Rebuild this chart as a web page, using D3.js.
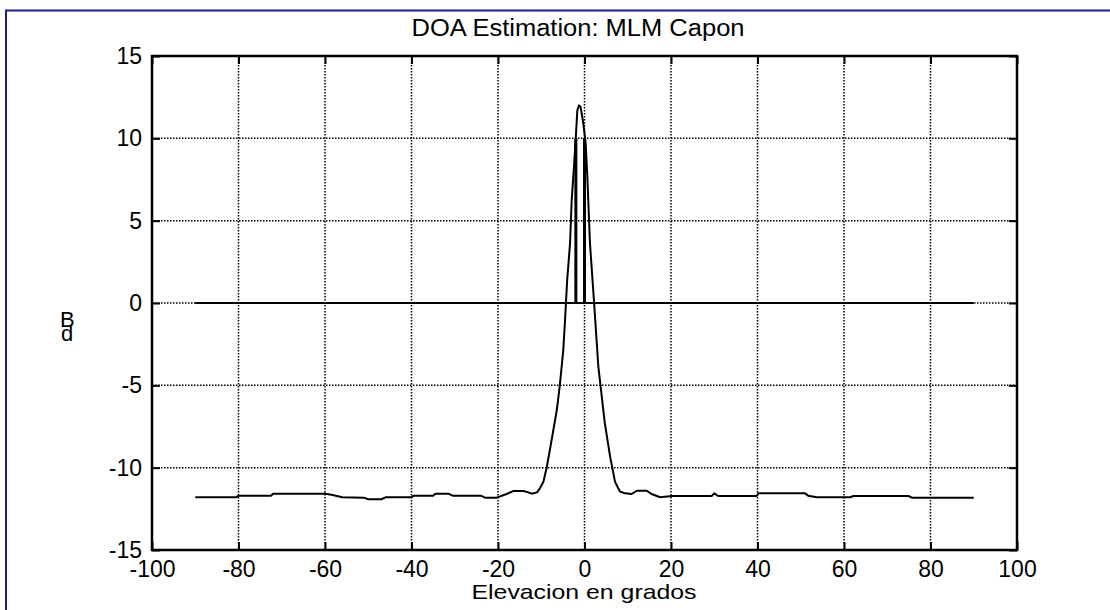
<!DOCTYPE html>
<html>
<head>
<meta charset="utf-8">
<script src="https://cdn.jsdelivr.net/npm/d3@7"></script>
<style>
  body { margin: 0; background: #fff; }
  svg { display: block; }
  text { font-family: "Liberation Sans", Arial, sans-serif; fill: #000; }
</style>
</head>
<body>
<div id="chart"></div>
<script>
// datos
var xTicks = [-100, -80, -60, -40, -20, 0, 20, 40, 60, 80, 100];
var yTicks = [-15, -10, -5, 0, 5, 10, 15];

// espectro MLM Capon (grados, dB)
var theta = [-90, -80.5, -80, -72.5, -72, -60, -58.5, -56, -51, -50, -47, -46, -40, -39.5, -35, -34.5,
  -31.5, -30.5, -24, -23, -20.3, -18, -16.5, -14.1, -13, -12.2, -11, -10.3, -9.5, -8.7, -7.6, -6.4,
  -5.7, -4.9, -4.5, -4.0, -3.35, -2.96, -2.43, -2.0, -1.66, -1.27, -0.9, -0.27, 0.27, 0.65, 1.27,
  1.8, 2.27, 3.2, 4.0, 4.7, 5.9, 7.05, 7.8, 8.2, 9.4, 10.9, 12.1, 14.4, 15.5, 17.5, 20.2, 29.4,
  30, 30.9, 39.8, 40.2, 51, 51.7, 53.7, 61.4, 62.2, 74.9, 75.7, 90];
var pdB = [-11.8, -11.8, -11.7, -11.7, -11.58, -11.58, -11.65, -11.8, -11.82, -11.92, -11.92, -11.8,
  -11.8, -11.7, -11.7, -11.58, -11.58, -11.7, -11.7, -11.82, -11.82, -11.6, -11.42, -11.42, -11.5,
  -11.58, -11.5, -11.25, -10.85, -9.94, -8.32, -6.5, -4.98, -2.85, -1.03, 1.4, 3.6, 6.25, 8.3, 10.1,
  11.7, 12.0, 11.9, 10.9, 9.7, 7.7, 3.6, 1.6, -0.2, -3.87, -5.7, -7.3, -9.3, -10.85, -11.25, -11.45,
  -11.56, -11.6, -11.4, -11.4, -11.6, -11.8, -11.72, -11.72, -11.56, -11.72, -11.72, -11.56, -11.56,
  -11.7, -11.8, -11.8, -11.72, -11.72, -11.82, -11.82];

// linea de cero y marcas de direccion
var zeroLine = [-90, 90];
var stemX = [-2, 0];
var stemTop = [10, 10];

var width = 1110, height = 610;
var mLeft = 152, mRight = 1017, mTop = 56, mBottom = 550;

var svg = d3.select("#chart").append("svg")
  .attr("width", width)
  .attr("height", height);

// marco azul
svg.append("rect")
  .attr("x", 6).attr("y", 10.5)
  .attr("width", 1200).attr("height", 800)
  .style("fill", "none")
  .style("stroke", "#1c1c8c")
  .style("stroke-width", 2);

var x = d3.scaleLinear().domain([-100, 100]).range([mLeft, mRight]);
var y = d3.scaleLinear().domain([-15, 15]).range([mBottom, mTop]);

// rejilla punteada
svg.append("g").selectAll("line")
  .data(xTicks.slice(1, -1))
  .enter().append("line")
  .attr("x1", function (d) { return x(d) }).attr("x2", function (d) { return x(d) })
  .attr("y1", mTop).attr("y2", mBottom)
  .style("stroke", "#000").style("stroke-width", 1.5).style("stroke-dasharray", "1.5,1.5");

svg.append("g").selectAll("line")
  .data(yTicks.slice(1, -1))
  .enter().append("line")
  .attr("y1", function (d) { return y(d) }).attr("y2", function (d) { return y(d) })
  .attr("x1", mLeft).attr("x2", mRight)
  .style("stroke", "#000").style("stroke-width", 1.5).style("stroke-dasharray", "1.5,1.5");

// ejes con marcas hacia dentro, en los cuatro lados
var tickLen = 8;
var fmt = function (d) { return String(d) };
var xBottom = d3.axisBottom(x).tickValues(xTicks).tickFormat(fmt).tickSizeInner(-tickLen).tickSizeOuter(0).tickPadding(11);
var xTop = d3.axisTop(x).tickValues(xTicks).tickSizeInner(-tickLen).tickSizeOuter(0).tickFormat("");
var yLeft = d3.axisLeft(y).tickValues(yTicks).tickFormat(fmt).tickSizeInner(-tickLen).tickSizeOuter(0).tickPadding(10);
var yRight = d3.axisRight(y).tickValues(yTicks).tickSizeInner(-tickLen).tickSizeOuter(0).tickFormat("");

function styleAxis(g) {
  g.select(".domain").remove();
  g.selectAll(".tick line").style("stroke", "#000").style("stroke-width", 2);
  g.selectAll(".tick text").style("font-size", "23px").style("font-family", "Liberation Sans, Arial, sans-serif");
}

svg.append("g").attr("transform", "translate(0," + mBottom + ")").call(xBottom).call(styleAxis);
svg.append("g").attr("transform", "translate(0," + mTop + ")").call(xTop).call(styleAxis);
svg.append("g").attr("transform", "translate(" + mLeft + ",0)").call(yLeft).call(styleAxis);
svg.append("g").attr("transform", "translate(" + mRight + ",0)").call(yRight).call(styleAxis);

// caja
svg.append("rect")
  .attr("x", mLeft).attr("y", mTop)
  .attr("width", mRight - mLeft).attr("height", mBottom - mTop)
  .style("fill", "none").style("stroke", "#000").style("stroke-width", 2.5);

// linea de cero
svg.append("line")
  .attr("x1", x(zeroLine[0])).attr("x2", x(zeroLine[1]))
  .attr("y1", y(0)).attr("y2", y(0))
  .style("stroke", "#000").style("stroke-width", 2);

// marcas verticales
svg.append("g").selectAll("line")
  .data(stemX)
  .enter().append("line")
  .attr("x1", function (d) { return x(d) }).attr("x2", function (d) { return x(d) })
  .attr("y1", y(0)).attr("y2", function (d, i) { return y(stemTop[i]) })
  .style("stroke", "#000").style("stroke-width", 3);

// espectro
var line = d3.line()
  .x(function (d) { return x(d[0]) })
  .y(function (d) { return y(d[1]) });

svg.append("path")
  .datum(d3.zip(theta, pdB))
  .attr("d", line)
  .style("fill", "none")
  .style("stroke", "#000")
  .style("stroke-width", 2)
  .style("stroke-linejoin", "round");

// textos
svg.append("text")
  .attr("x", 578).attr("y", 36)
  .attr("text-anchor", "middle")
  .attr("textLength", 333)
  .attr("lengthAdjust", "spacingAndGlyphs")
  .style("font-size", "23px")
  .text("DOA Estimation: MLM Capon");

svg.append("text")
  .attr("x", 584).attr("y", 599)
  .attr("text-anchor", "middle")
  .attr("textLength", 225)
  .attr("lengthAdjust", "spacingAndGlyphs")
  .style("font-size", "21px")
  .text("Elevacion en grados");

// etiqueta dB apilada
svg.append("text").attr("x", 60).attr("y", 327).style("font-size", "22px").text("B");
svg.append("text").attr("x", 61).attr("y", 341).style("font-size", "22px").text("d");
</script>
</body>
</html>
